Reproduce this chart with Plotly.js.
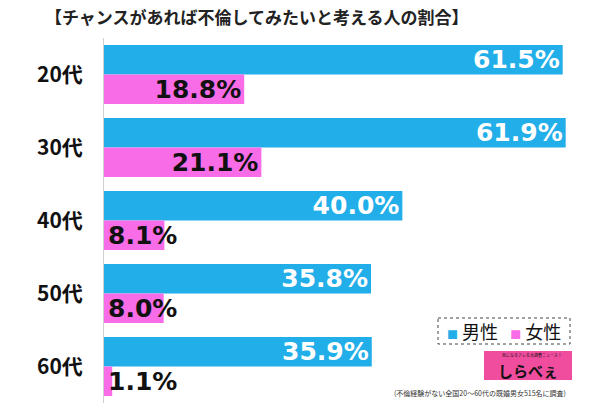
<!DOCTYPE html>
<html>
<head>
<meta charset="utf-8">
<script src="https://cdn.plot.ly/plotly-3.0.1.min.js"></script>
<style>
  html, body { margin: 0; padding: 0; background: #fff; }
  #chart { width: 600px; height: 404px; }
</style>
</head>
<body>
<div id="chart"></div>
<script>
// values
const ages = ['20代', '30代', '40代', '50代', '60代'];
const men = [61.5, 61.9, 40.0, 35.8, 35.9];
const women = [18.8, 21.1, 8.1, 8.0, 1.1];
const seriesNames = ['男性', '女性'];
const seriesColors = ['#22aee9', '#f86ce8'];

const titleText = '【チャンスがあれば不倫してみたいと考える人の割合】';
const noteText = '(不倫経験がない全国20〜60代の既婚男女515名に調査)';

// plot box in pixels, used to place the extra decorations
const W = 600, H = 404;
const box = {l: 104, r: 0, t: 38, b: 1};
const px = x => (x - box.l) / (W - box.l - box.r);
const py = y => (H - box.b - y) / (H - box.t - box.b);

const numFont = {family: 'DejaVu Sans', size: 25, weight: 'bold'};
const fits = v => v >= 15;   // pink values too short to hold their own label

const fmt = v => v.toFixed(1) + '%';

const data = [
  {
    type: 'bar', orientation: 'h', name: seriesNames[0],
    y: ages, x: men,
    marker: {color: seriesColors[0]},
    text: men.map(fmt),
    textposition: 'inside', insidetextanchor: 'end', constraintext: 'none',
    textfont: Object.assign({color: '#fff'}, numFont),
    hoverinfo: 'skip'
  },
  {
    type: 'bar', orientation: 'h', name: seriesNames[1],
    y: ages, x: women,
    marker: {color: seriesColors[1]},
    text: women.map(v => fits(v) ? fmt(v) : ''),
    textposition: 'inside', insidetextanchor: 'end', constraintext: 'none',
    textfont: Object.assign({color: '#111'}, numFont),
    hoverinfo: 'skip'
  }
];

// labels of short pink bars sit at the start of the bar and run past its end
const shortLabels = [];
women.forEach((v, i) => {
  if (!fits(v)) {
    shortLabels.push({
      x: 0, y: ages[i], xref: 'x', yref: 'y',
      text: fmt(v), showarrow: false,
      xanchor: 'left', yanchor: 'middle', xshift: 2, yshift: -15,
      font: Object.assign({color: '#111'}, numFont)
    });
  }
});

const legendText = seriesNames.map((n, i) =>
  '<span style="color:' + seriesColors[i] + ';font-size:11px">■</span>&nbsp;' + n
).join('&nbsp;&nbsp;&nbsp;');

const layout = {
  width: W, height: H,
  margin: box,
  paper_bgcolor: '#fff', plot_bgcolor: '#fff',
  showlegend: false,
  barmode: 'group', bargap: 0.19, bargroupgap: 0,
  font: {family: 'Noto Sans CJK JP', color: '#111'},
  xaxis: {
    range: [0, 66.5], showgrid: false, zeroline: false,
    showticklabels: false, ticks: '', fixedrange: true
  },
  yaxis: {
    autorange: 'reversed', showgrid: false, zeroline: false,
    showline: true, linecolor: '#d0d0d0', linewidth: 1,
    ticks: '', ticklabelstandoff: 16,
    tickfont: {family: 'Noto Sans CJK JP', size: 21, weight: 'bold', color: '#111'}
  },
  shapes: [
    {type: 'rect', xref: 'paper', yref: 'paper',
     x0: px(438), x1: px(570), y0: py(318), y1: py(344),
     line: {color: '#444', width: 1, dash: 'dot'}, fillcolor: '#fff'},
    {type: 'rect', xref: 'paper', yref: 'paper',
     x0: px(484), x1: px(572), y0: py(351), y1: py(380),
     line: {width: 0}, fillcolor: '#f04d9f'}
  ],
  annotations: [
    {xref: 'paper', yref: 'paper', x: px(256), y: py(16),
     text: titleText, showarrow: false, xanchor: 'center', yanchor: 'middle',
     font: {family: 'Noto Sans CJK JP', size: 17, weight: 'bold', color: '#222'}},
    {xref: 'paper', yref: 'paper', x: px(504), y: py(331),
     text: legendText, showarrow: false, xanchor: 'center', yanchor: 'middle',
     font: {family: 'Noto Sans CJK JP', size: 18, color: '#111'}},
    {xref: 'paper', yref: 'paper', x: px(532), y: py(355),
     text: '気になるアレを大調査ニュース！', showarrow: false,
     xanchor: 'center', yanchor: 'middle',
     font: {family: 'Noto Sans CJK JP', size: 4, color: '#111'}},
    {xref: 'paper', yref: 'paper', x: px(528), y: py(370.5),
     text: 'しらべぇ', showarrow: false, xanchor: 'center', yanchor: 'middle',
     font: {family: 'Noto Sans CJK JP', size: 15, weight: 'bold', color: '#111'}},
    {xref: 'paper', yref: 'paper', x: px(568), y: py(393),
     text: noteText, showarrow: false, xanchor: 'right', yanchor: 'middle',
     font: {family: 'Noto Sans CJK JP', size: 7, color: '#333'}}
  ].concat(shortLabels)
};

Plotly.newPlot('chart', data, layout, {displayModeBar: false, staticPlot: true});
</script>
</body>
</html>
